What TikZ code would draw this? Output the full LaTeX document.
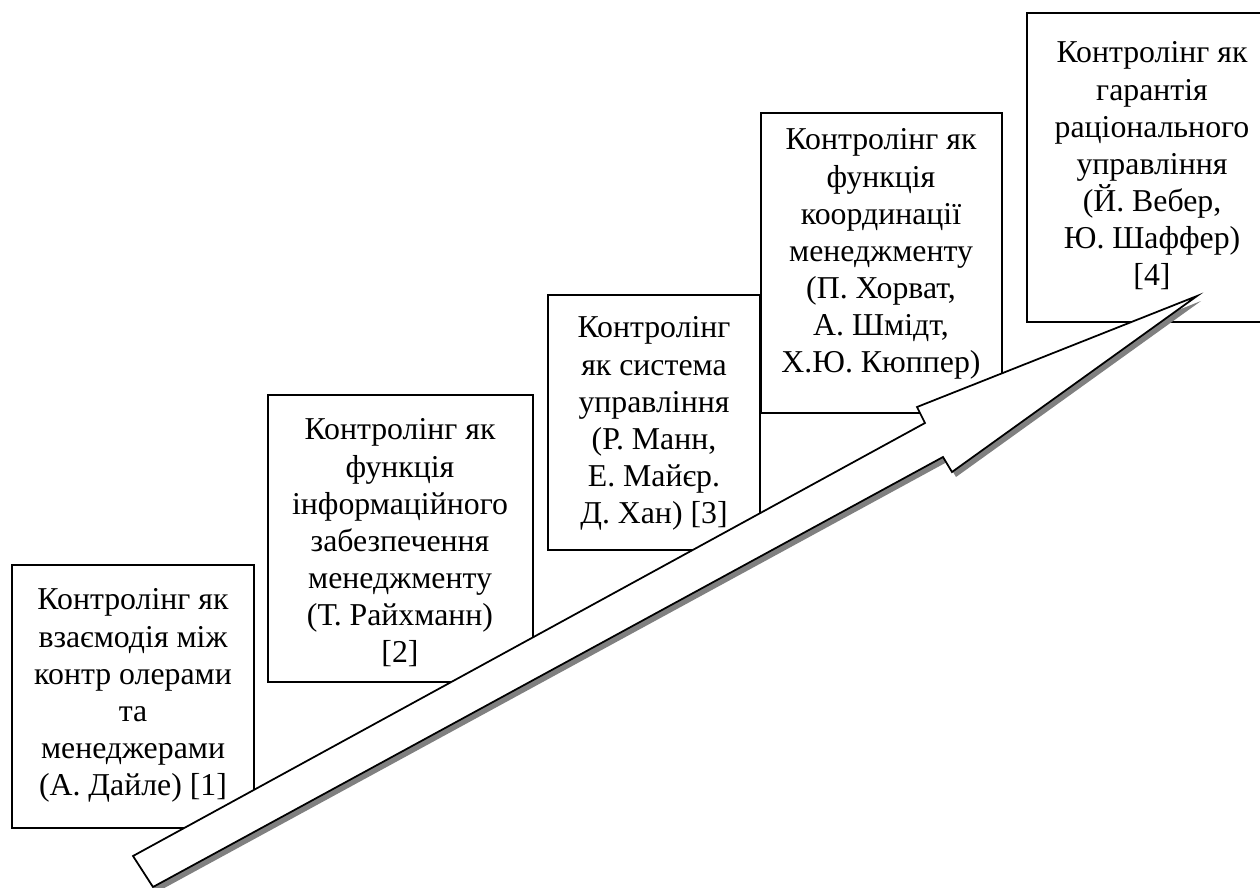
\documentclass[tikz,border=0pt]{standalone}
\usepackage{fontspec}
\setmainfont{Liberation Serif}
\begin{document}
\begin{tikzpicture}[x=0.02cm,y=-0.02cm,line width=1pt,
  boxtext/.style={anchor=north,align=center,inner sep=0pt,font=\fontsize{18.1}{21.1}\selectfont}]
  \useasboundingbox (0,0) rectangle (1260,888);

  \draw (12,565) rectangle (254,828);
  \node[boxtext] (stage1) at (133,588) {Контролінг як\\взаємодія між\\контр олерами\\та\\менеджерами\\(А. Дайле) [1]};

  \draw (268,395) rectangle (533,682);
  \node[boxtext] (stage2) at (400,418) {Контролінг як\\функція\\інформаційного\\забезпечення\\менеджменту\\(Т. Райхманн)\\{[2]}};

  \draw (548,295) rectangle (760,550);
  \node[boxtext] (stage3) at (654,316) {Контролінг\\як система\\управління\\(Р. Манн,\\Е. Майєр.\\Д. Хан) [3]};

  \draw (761,113) rectangle (1002,413);
  \node[boxtext] (stage4) at (881,128) {Контролінг як\\функція\\координації\\менеджменту\\(П. Хорват,\\А. Шмідт,\\Х.Ю. Кюппер)};

  \draw (1027,13) rectangle (1277,322);
  \node[boxtext] (stage5) at (1152,41) {Контролінг як\\гарантія\\раціонального\\управління\\(Й. Вебер,\\Ю. Шаффер)\\{[4]}};

  % big arrow
  \coordinate (tailA) at (133,856);
  \coordinate (tailB) at (153,887);
  \coordinate (neckA) at (925,423);
  \coordinate (barbA) at (917,407);
  \coordinate (tip) at (1197,296);
  \coordinate (barbB) at (952,472);
  \coordinate (neckB) at (943,457);
  \fill[gray,transform canvas={shift={(4,5)}}] (tailA) -- (neckA) -- (barbA) -- (tip) -- (barbB) -- (neckB) -- (tailB) -- cycle;
  \filldraw[fill=white] (tailA) -- (neckA) -- (barbA) -- (tip) -- (barbB) -- (neckB) -- (tailB) -- cycle;
\end{tikzpicture}
\end{document}
